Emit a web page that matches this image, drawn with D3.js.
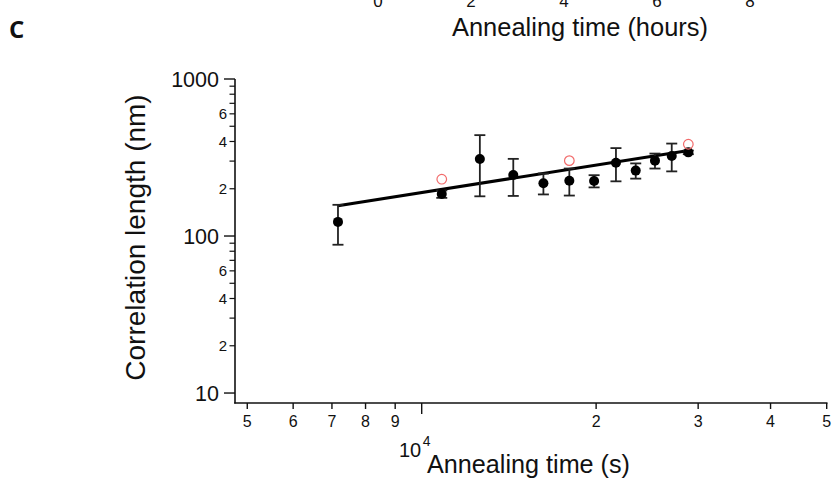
<!DOCTYPE html>
<html>
<head>
<meta charset="utf-8">
<script src="https://d3js.org/d3.v7.min.js"></script>
<style>
  body { margin: 0; background: #fff; }
  text { font-family: "Liberation Sans", Arial, sans-serif; fill: #111; }
</style>
</head>
<body>
<script>
// annealing time (s), correlation length (nm), +/- error (nm)
let timeS   = [7170, 10830, 12600, 14390, 16220, 17980, 19840, 21640, 23410, 25270, 27010, 28850];
let corrLen = [123, 185, 309, 245, 217, 225, 224, 293, 261, 302, 323, 341];
let corrErr = [35, 10, 130, 65, 33, 44, 20, 70, 29, 33, 65, 9];

// open red markers
let redTime = [10830, 17980, 28850];
let redLen  = [230, 302, 384];

// power-law fit, end points
let fitTime = [7170, 29270];
let fitLen  = [156, 353];

// tick labels
let xMinorVals = [5000, 6000, 7000, 8000, 9000, 20000, 30000, 40000, 50000];
let xMinorLabels = ["5", "6", "7", "8", "9", "2", "3", "4", "5"];
let yMajorVals = [10, 100, 1000];
let yLabelVals = [20, 40, 60, 200, 400, 600];
let yLabelText = ["2", "4", "6", "2", "4", "6"];
let topHours = [0, 2, 4, 6, 8];

let width = 834, height = 484;

let svg = d3.select("body").append("svg")
    .attr("width", width)
    .attr("height", height);

let x = d3.scaleLog().domain([4762, 50000]).range([235, 826.7]);
let y = d3.scaleLog().domain([8.64, 1000]).range([403, 79]);
let xTop = d3.scaleLinear().domain([0, 8]).range([378, 750]);

// panel letter
svg.append("text")
    .attr("x", 9).attr("y", 38)
    .attr("font-size", "24px").attr("font-weight", "bold")
    .attr("style", "font-family: 'Open Sans', 'Liberation Sans', sans-serif")
    .text("C");

// bits of the panel above (cut off)
svg.selectAll(".toptick")
  .data(topHours)
  .enter()
  .append("text")
    .attr("x", function (d) { return xTop(d); })
    .attr("y", 7)
    .attr("text-anchor", "middle")
    .attr("font-size", "17px")
    .text(function (d) { return d; });

svg.append("text")
    .attr("x", 452).attr("y", 36)
    .attr("font-size", "25px")
    .attr("textLength", 256).attr("lengthAdjust", "spacingAndGlyphs")
    .text("Annealing time (hours)");

// y axis
let yMinor = [];
[10, 100].forEach(function (dec) {
  for (let k = 2; k <= 9; k++) yMinor.push(dec * k);
});

svg.append("line")
    .attr("x1", 235).attr("x2", 235)
    .attr("y1", y(1000)).attr("y2", 403.5)
    .attr("stroke", "#111").attr("stroke-width", 1.6);

svg.selectAll(".ymaj")
  .data(yMajorVals)
  .enter()
  .append("line")
    .attr("x1", 224).attr("x2", 235)
    .attr("y1", function (d) { return y(d); })
    .attr("y2", function (d) { return y(d); })
    .attr("stroke", "#111").attr("stroke-width", 1.4);

svg.selectAll(".ymin")
  .data(yMinor)
  .enter()
  .append("line")
    .attr("x1", 229.5).attr("x2", 235)
    .attr("y1", function (d) { return y(d); })
    .attr("y2", function (d) { return y(d); })
    .attr("stroke", "#111").attr("stroke-width", 1.2);

svg.selectAll(".ymajlab")
  .data(yMajorVals)
  .enter()
  .append("text")
    .attr("x", 219)
    .attr("y", function (d) { return y(d) + 7.5; })
    .attr("text-anchor", "end")
    .attr("font-size", "21.5px")
    .text(function (d) { return d; });

svg.selectAll(".yminlab")
  .data(yLabelVals)
  .enter()
  .append("text")
    .attr("x", 227)
    .attr("y", function (d) { return y(d) + 5.3; })
    .attr("text-anchor", "end")
    .attr("font-size", "15px")
    .text(function (d, i) { return yLabelText[i]; });

svg.append("text")
    .attr("transform", "translate(145,237.5) rotate(-90)")
    .attr("text-anchor", "middle")
    .attr("font-size", "28px")
    .text("Correlation length (nm)");

// x axis
svg.append("line")
    .attr("x1", 234.2).attr("x2", x(50000) + 0.8)
    .attr("y1", 403).attr("y2", 403)
    .attr("stroke", "#111").attr("stroke-width", 1.6);

svg.selectAll(".xmin")
  .data(xMinorVals)
  .enter()
  .append("line")
    .attr("x1", function (d) { return x(d); })
    .attr("x2", function (d) { return x(d); })
    .attr("y1", 403).attr("y2", 409)
    .attr("stroke", "#111").attr("stroke-width", 1.4);

svg.append("line")
    .attr("x1", x(10000)).attr("x2", x(10000))
    .attr("y1", 403).attr("y2", 414)
    .attr("stroke", "#111").attr("stroke-width", 1.4);

svg.selectAll(".xminlab")
  .data(xMinorVals)
  .enter()
  .append("text")
    .attr("x", function (d) { return x(d); })
    .attr("y", 427)
    .attr("text-anchor", "middle")
    .attr("font-size", "16px")
    .text(function (d, i) { return xMinorLabels[i]; });

svg.append("text")
    .attr("x", x(10000) - 0.5).attr("y", 457)
    .attr("text-anchor", "end")
    .attr("font-size", "20px")
    .text("10");
svg.append("text")
    .attr("x", x(10000) + 1).attr("y", 446)
    .attr("font-size", "14px")
    .text("4");

svg.append("text")
    .attr("x", 427).attr("y", 473)
    .attr("font-size", "25px")
    .attr("textLength", 203).attr("lengthAdjust", "spacingAndGlyphs")
    .text("Annealing time (s)");

// fit line
let fitData = fitTime.map(function (t, i) { return [t, fitLen[i]]; });
svg.append("path")
    .datum(fitData)
    .attr("d", d3.line()
        .x(function (d) { return x(d[0]); })
        .y(function (d) { return y(d[1]); }))
    .attr("stroke", "#000").attr("stroke-width", 3)
    .attr("fill", "none");

// error bars
let pts = timeS.map(function (t, i) {
  return { t: t, v: corrLen[i], e: corrErr[i] };
});

let eb = svg.selectAll(".eb")
  .data(pts)
  .enter()
  .append("g");

eb.append("line")
    .attr("x1", function (d) { return x(d.t); })
    .attr("x2", function (d) { return x(d.t); })
    .attr("y1", function (d) { return y(d.v + d.e); })
    .attr("y2", function (d) { return y(d.v - d.e); })
    .attr("stroke", "#222").attr("stroke-width", 1.8);

[1, -1].forEach(function (s) {
  eb.append("line")
      .attr("x1", function (d) { return x(d.t) - 5.5; })
      .attr("x2", function (d) { return x(d.t) + 5.5; })
      .attr("y1", function (d) { return y(d.v + s * d.e); })
      .attr("y2", function (d) { return y(d.v + s * d.e); })
      .attr("stroke", "#222").attr("stroke-width", 1.8);
});

svg.selectAll(".pt")
  .data(pts)
  .enter()
  .append("circle")
    .attr("cx", function (d) { return x(d.t); })
    .attr("cy", function (d) { return y(d.v); })
    .attr("r", 5)
    .attr("fill", "#000");

svg.selectAll(".red")
  .data(redTime)
  .enter()
  .append("circle")
    .attr("cx", function (d) { return x(d); })
    .attr("cy", function (d, i) { return y(redLen[i]); })
    .attr("r", 4.8)
    .attr("fill", "none")
    .attr("stroke", "#f26b6b")
    .attr("stroke-width", 1.2);
</script>
</body>
</html>
